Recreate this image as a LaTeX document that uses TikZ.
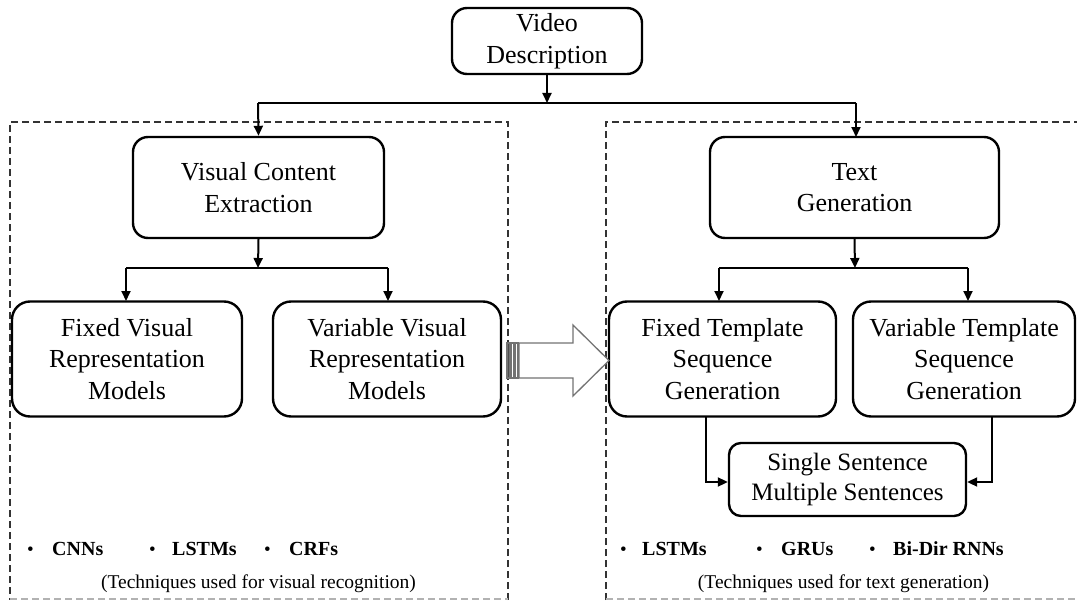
\documentclass[tikz,border=0pt]{standalone}
\usepackage{fontspec}
\setmainfont{Liberation Serif}
\usetikzlibrary{arrows.meta}
\begin{document}
\begin{tikzpicture}[x=1pt,y=-1pt,
  box/.style={draw, line width=2.4pt, rounded corners=15pt, align=center, inner sep=0pt,
    font=\fontsize{26}{31.5}\selectfont},
  conn/.style={line width=2pt, -{Triangle[length=10pt,width=9pt]}},
  plain/.style={line width=2pt},
  frame/.style={draw, dashed, dash pattern=on 7pt off 4pt, line width=1.3pt, black!80},
  item/.style={anchor=base west, inner sep=0pt, font=\fontsize{20}{22}\selectfont\bfseries},
  bul/.style={anchor=base west, inner sep=0pt, font=\fontsize{19}{22}\selectfont},
  capt/.style={anchor=base, inner sep=0pt, font=\fontsize{19.5}{22}\selectfont}]
\useasboundingbox (0,0) rectangle (1077,602);
% dashed frames
\draw[frame] (508,600) -- (508,122) -- (10,122) -- (10,600);
\draw[frame, black!30] (10,599) -- (508,599);
\draw[frame] (606,600) -- (606,122) -- (1077,122);
\draw[frame, black!30] (606,599) -- (1077,599);
% nodes
\node[box, minimum width=190pt, minimum height=66pt] (vd) at (547,41) {Video\\Description};
\node[box, minimum width=251pt, minimum height=101pt] (vce) at (258.5,187.5) {Visual Content\\Extraction};
\node[box, minimum width=289pt, minimum height=101pt] (tg) at (854.5,187.5) {Text\\Generation};
\node[box, rounded corners=18pt, minimum width=230pt, minimum height=115pt] (fv) at (127,359) {Fixed Visual\\Representation\\Models};
\node[box, rounded corners=18pt, minimum width=228pt, minimum height=115pt] (vv) at (387,359) {Variable Visual\\Representation\\Models};
\node[box, rounded corners=18pt, minimum width=227pt, minimum height=115pt] (ft) at (722.5,359) {Fixed Template\\Sequence\\Generation};
\node[box, rounded corners=18pt, minimum width=222pt, minimum height=115pt] (vt) at (964,359) {Variable Template\\Sequence\\Generation};
\node[box, rounded corners=12pt, minimum width=237pt, minimum height=73pt, font=\fontsize{25}{30.5}\selectfont] (ss) at (847.5,479.5) {Single Sentence\\Multiple Sentences};
% junction coordinates
\coordinate (j0) at (547,103);
\coordinate (j1) at (258,268);
\coordinate (j2) at (855,268);
% connectors
\draw[conn] (vd.south) -- (j0);
\draw[plain] (258,103) -- (856,103);
\draw[conn] (258,103) -- (vce.north);
\draw[conn] (856,103) -- (856,137);
\draw[conn] (vce.south) -- (j1);
\draw[plain] (126,268) -- (388,268);
\draw[conn] (126,268) -- (126,301);
\draw[conn] (388,268) -- (388,301);
\draw[conn] (tg.south) -- (j2);
\draw[plain] (719,268) -- (968,268);
\draw[conn] (719,268) -- (719,301);
\draw[conn] (968,268) -- (968,301);
\draw[conn] (706,416.5) |- (ss.west |- 0,482);
\draw[conn] (992,416.5) |- (ss.east |- 0,482);
% big hollow arrow
\begin{scope}[line width=1.3pt, draw=black!55]
\draw[fill=black!70] (507,343) rectangle (510,378);
\draw[fill=white] (511.5,343) rectangle (514,378);
\draw[fill=white] (515.5,343) rectangle (518,378);
\draw[fill=white] (519,343) -- (573,343) -- (573,325) -- (609,360.5) -- (573,396) -- (573,378) -- (519,378) -- cycle;
\end{scope}
% bullets left
\node[bul] (b1) at (27,555) {•};
\node[item] (t1) at (52,555) {CNNs};
\node[bul] (b2) at (149,555) {•};
\node[item] (t2) at (172,555) {LSTMs};
\node[bul] (b3) at (264,555) {•};
\node[item] (t3) at (289,555) {CRFs};
\node[capt] (c1) at (258.5,588) {(Techniques used for visual recognition)};
% bullets right
\node[bul] (b4) at (620,555) {•};
\node[item] (t4) at (642,555) {LSTMs};
\node[bul] (b5) at (756,555) {•};
\node[item] (t5) at (781,555) {GRUs};
\node[bul] (b6) at (869,555) {•};
\node[item] (t6) at (893,555) {Bi-Dir RNNs};
\node[capt] (c2) at (843.5,588) {(Techniques used for text generation)};
\end{tikzpicture}
\end{document}
